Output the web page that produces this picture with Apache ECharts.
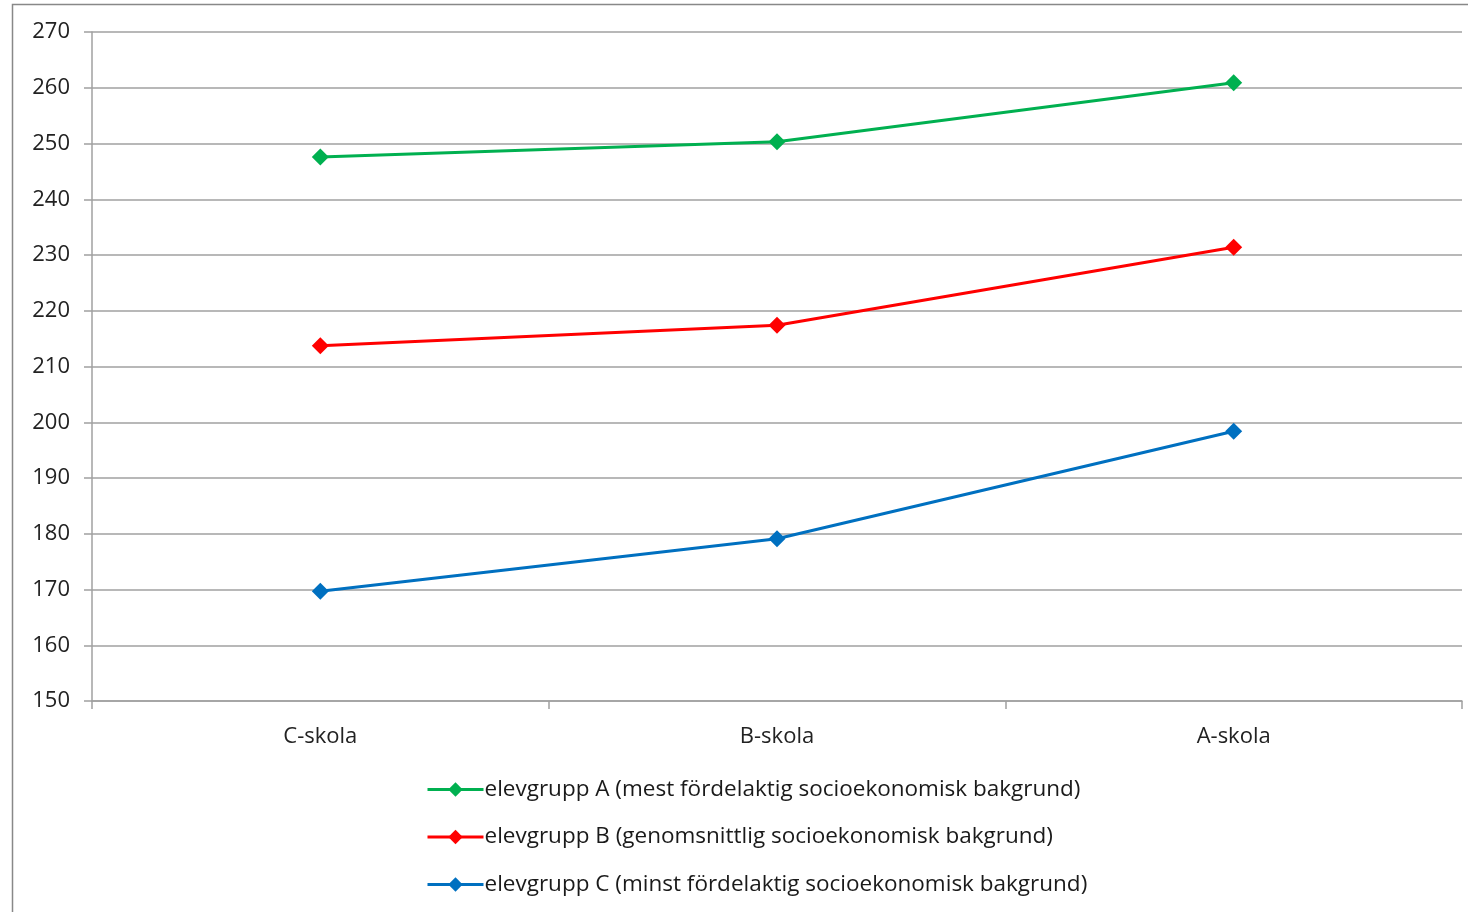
<!DOCTYPE html>
<html><head><meta charset="utf-8">
<script src="https://cdn.jsdelivr.net/npm/echarts@6/dist/echarts.min.js"></script>
<style>html,body{margin:0;padding:0;background:#fff}#c{width:1468px;height:912px}</style>
</head><body><div id="c"></div>
<script>
const categories = ['C-skola', 'B-skola', 'A-skola'];
const seriesNames = [
  'elevgrupp A (mest fördelaktig socioekonomisk bakgrund)',
  'elevgrupp B (genomsnittlig socioekonomisk bakgrund)',
  'elevgrupp C (minst fördelaktig socioekonomisk bakgrund)'
];
const groupA = [247.6, 250.3, 260.9];
const groupB = [213.7, 217.4, 231.4];
const groupC = [169.7, 179.1, 198.4];
const colors = ['#00b050', '#ff0000', '#0070c0'];
const values = [groupA, groupB, groupC];

const chart = echarts.init(document.getElementById('c'));
const font = '"Open Sans", Lato, sans-serif';
chart.setOption({
  animation: false,
  textStyle: { fontFamily: font },
  graphic: [{
    type: 'polyline',
    shape: { points: [[12.5, 912], [12.5, 4.5], [1468, 4.5]] },
    style: { stroke: '#888', lineWidth: 1.5, fill: null }
  }],
  grid: { left: 92, right: 6, top: 32, bottom: 211, containLabel: false },
  legend: {
    orient: 'vertical', left: 421, top: 773, height: 138,
    itemWidth: 56, itemHeight: 18, itemGap: 24.5,
    lineStyle: { width: 3 },
    textStyle: { fontSize: 22.5, color: '#1a1a1a', fontFamily: font, padding: [0, 0, 0, -4] },
    data: seriesNames
  },
  xAxis: {
    type: 'category', data: categories, boundaryGap: true,
    axisLine: { lineStyle: { color: '#a0a0a0', width: 1.5 } },
    axisTick: { show: true, length: 8, lineStyle: { color: '#a0a0a0', width: 1.5 } },
    axisLabel: { fontSize: 22, color: '#222', margin: 25, fontFamily: font }
  },
  yAxis: {
    type: 'value', min: 150, max: 270, interval: 10,
    axisLine: { show: true, lineStyle: { color: '#a0a0a0', width: 1.5 } },
    axisTick: { show: true, length: 8, lineStyle: { color: '#a0a0a0', width: 1.5 } },
    axisLabel: { fontSize: 22, color: '#222', margin: 22, fontFamily: font },
    splitLine: { lineStyle: { color: '#a0a0a0', width: 1.5 } }
  },
  series: values.map((v, i) => ({
    name: seriesNames[i], type: 'line', data: v,
    symbol: 'diamond', symbolSize: 17,
    lineStyle: { color: colors[i], width: 3 },
    itemStyle: { color: colors[i] }
  }))
});
</script></body></html>
